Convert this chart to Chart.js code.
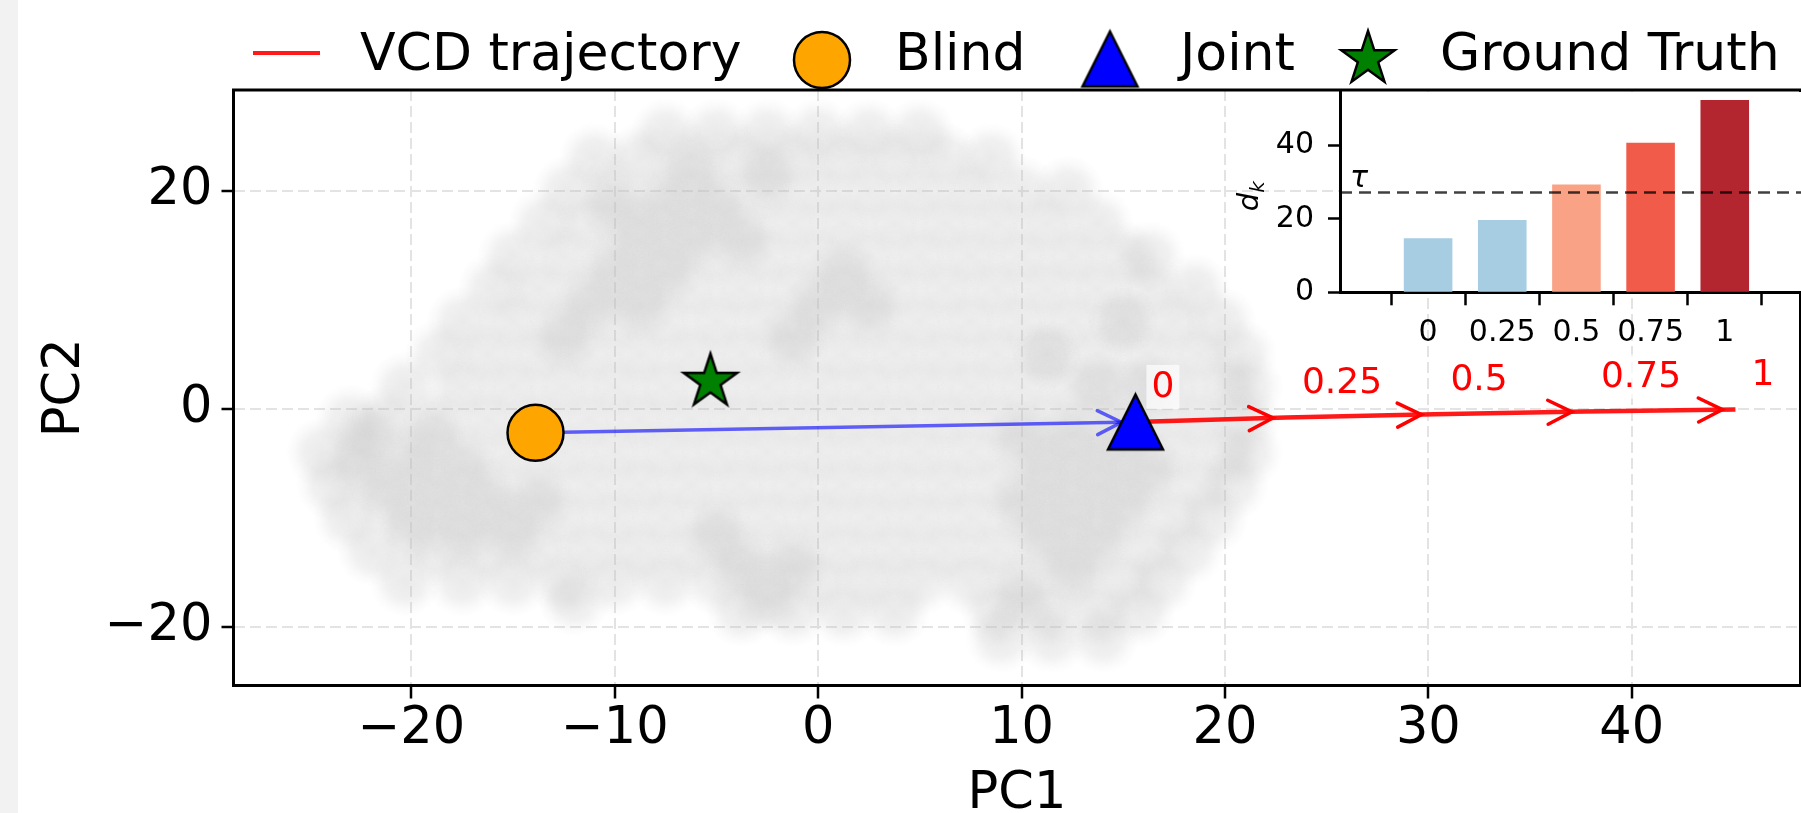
<!DOCTYPE html>
<html>
<head>
<meta charset="utf-8">
<title>VCD trajectory</title>
<script src="https://cdn.jsdelivr.net/npm/chart.js@4.4.1/dist/chart.umd.min.js"></script>
<style>
  html, body { margin: 0; padding: 0; width: 1801px; height: 813px; overflow: hidden; background: #f2f2f2; }
  #wrap { position: absolute; left: 18px; top: 0; width: 1813px; height: 813px; background: #fff; }
  #main { position: absolute; left: 0; top: 0; }
  #inset { position: absolute; left: 1202px; top: 80px; }
</style>
</head>
<body>
<div id="wrap">
  <canvas id="main" width="1813" height="813"></canvas>
  <canvas id="inset" width="600" height="300"></canvas>
</div>
<script>
// --- 데이터 ---
const xTicks = [-20, -10, 0, 10, 20, 30, 40];
const yTicks = [-20, 0, 20];

const blindPt = { x: -13.9, y: -2.2 };
const jointPt = { x: 15.6, y: -1.2 };
const truthPt = { x: -5.3, y: 2.5 };

const lambdaLabels = ['0', '0.25', '0.5', '0.75', '1'];
const lambdaVals = [0, 0.25, 0.5, 0.75, 1];
const trajX = [15.6, 23.0, 30.3, 37.7, 45.1];
const trajY = [-1.2, -0.8, -0.5, -0.25, -0.05];

const dk = [14.7, 19.7, 29.4, 40.8, 52.4];
const tau = 27.2;
const dkTicks = [0, 20, 40];

// PCA cloud: [y, [x ...]]
const cloudRows = [
  [25.3, [-7.5, -5, -2.5, 0, 2.5, 5]],
  [23,   [-11, -8.75, -6.25, -3.75, -1.25, 1.25, 3.75, 6.25, 8.5]],
  [20,   [-12.3, -10, -7.5, -5, -2.5, 0, 2.5, 5, 7.5, 10, 12.3]],
  [17,   [-13.5, -11.25, -8.75, -6.25, -3.75, -1.25, 1.25, 3.75, 6.25, 8.75, 11.25, 13.75]],
  [14,   [-15, -12.5, -10, -7.5, -5, -2.5, 0, 2.5, 5, 7.5, 10, 12.5, 15, 16.3]],
  [11,   [-16, -13.75, -11.25, -8.75, -6.25, -3.75, -1.25, 1.25, 3.75, 6.25, 8.75, 11.25, 13.75, 16.25, 18.5]],
  [8,    [-17.5, -15, -12.5, -10, -7.5, -5, -2.5, 0, 2.5, 5, 7.5, 10, 12.5, 15, 17.5, 19.8]],
  [5,    [-18.6, -16.25, -13.75, -11.25, -8.75, -6.25, -3.75, -1.25, 1.25, 3.75, 6.25, 8.75, 11.25, 13.75, 16.25, 18.75, 20.8]],
  [2,    [-20.3, -17.5, -15, -12.5, -10, -7.5, -5, -2.5, 0, 2.5, 5, 7.5, 10, 12.5, 15, 17.5, 20, 21.1]],
  [-1,   [-23, -21.25, -18.75, -16.25, -13.75, -11.25, -8.75, -6.25, -3.75, -1.25, 1.25, 3.75, 6.25, 8.75, 11.25, 13.75, 16.25, 18.75, 21]],
  [-4,   [-24.4, -22.5, -20, -17.5, -15, -12.5, -10, -7.5, -5, -2.5, 0, 2.5, 5, 7.5, 10, 12.5, 15, 17.5, 20, 21.1]],
  [-7,   [-23.9, -21.25, -18.75, -16.25, -13.75, -11.25, -8.75, -6.25, -3.75, -1.25, 1.25, 3.75, 6.25, 8.75, 11.25, 13.75, 16.25, 18.75, 20.4]],
  [-10,  [-23.1, -20, -17.5, -15, -12.5, -10, -7.5, -5, -2.5, 0, 2.5, 5, 7.5, 10, 12.5, 15, 17.5, 19.4]],
  [-13,  [-21.9, -18.75, -16.25, -13.75, -11.25, -8.75, -6.25, -3.75, -1.25, 1.25, 3.75, 6.25, 8.75, 11.25, 13.75, 16.25, 18.2]],
  [-15.8, [-20.3, -17.5, -15, -12.5, -10, -7.5, -5, -2.5, 0, 2.5, 5, 7.5, 10, 12.5, 15, 16.9]],
  [-17.6, [-12]],
  [-18.6, [-3.75, -1.25, 1.25, 3.75, 8.75, 11.25, 13.75, 15.8]],
  [-21,  [9, 11.5, 14]]
];
// denser patches of the cloud
const cloudDense = [
  [-22.5, -5.5], [-20, -5.5], [-17.5, -5.5], [-21.25, -8.5], [-18.75, -8.5], [-16.25, -8.5],
  [-20, -11.5], [-17.5, -11.5], [-22, -2.5], [-19, -2.5], [-15, -11.5], [-13.75, -8.5],
  [-10, 18.5], [-7.5, 18.5], [-5, 18.5], [-8.75, 15.5], [-6.25, 15.5], [-3.75, 15.5],
  [-10, 12.5], [-7.5, 12.5], [-11.25, 9.5], [-8.75, 9.5], [-12.5, 6.5], [-2.5, 21.5], [-6.25, 21.5],
  [0, 9.5], [2.5, 9.5], [-1.25, 6.5], [1.25, 12.5],
  [10, -2.5], [12.5, -2.5], [15, -2.5], [11.25, -5.5], [13.75, -5.5], [16.25, -5.5],
  [10, -8.5], [12.5, -8.5], [15, -8.5], [11.25, -11.5], [13.75, -11.5], [12.5, -14.5], [10, -17.5],
  [13.75, 2], [16.25, 2], [11.25, 5], [15, 8],
  [-3.75, -14.5], [-1.25, -14.5], [-5, -11.5], [-2.5, -17.5]
];

// --- 스타일 ---
const trajColor = 'rgba(255, 0, 0, 0.9)';
const blueColor = 'rgba(0, 0, 255, 0.6)';
const barColors = ['#a6cde2', '#a6cde2', '#f9a286', '#f05b4a', '#b3262f'];
const FONT = '"DejaVu Sans", sans-serif';

Chart.defaults.font.family = FONT;
Chart.defaults.color = '#000';

const minusFmt = v => (v < 0 ? '\u2212' + Math.abs(v) : String(v));

// 구름용 부드러운 점
function makeSoftDot(R) {
  const c = document.createElement('canvas');
  c.width = c.height = 2 * R;
  const g = c.getContext('2d');
  const grd = g.createRadialGradient(R, R, 0, R, R, R);
  grd.addColorStop(0, 'rgba(195,195,195,0.35)');
  grd.addColorStop(0.5, 'rgba(195,195,195,0.25)');
  grd.addColorStop(0.8, 'rgba(195,195,195,0.08)');
  grd.addColorStop(1, 'rgba(195,195,195,0)');
  g.fillStyle = grd;
  g.fillRect(0, 0, 2 * R, 2 * R);
  return c;
}

function makeTriangle(size, fill) {
  const pad = 6;
  const c = document.createElement('canvas');
  c.width = size + pad * 2;
  c.height = size + pad * 2;
  const g = c.getContext('2d');
  g.beginPath();
  g.moveTo(c.width / 2, pad);
  g.lineTo(c.width - pad, c.height - pad);
  g.lineTo(pad, c.height - pad);
  g.closePath();
  g.fillStyle = fill;
  g.fill();
  g.lineWidth = 2.5;
  g.strokeStyle = '#000';
  g.stroke();
  return c;
}

function makeStar(R, fill) {
  const pad = 7;
  const c = document.createElement('canvas');
  c.width = c.height = Math.round(2 * R + pad * 2);
  const g = c.getContext('2d');
  const cx = c.width / 2, cy = c.height / 2, r = R * 0.382;
  g.beginPath();
  for (let k = 0; k < 10; k++) {
    const a = -Math.PI / 2 + k * Math.PI / 5;
    const rr = k % 2 === 0 ? R : r;
    g.lineTo(cx + rr * Math.cos(a), cy + rr * Math.sin(a));
  }
  g.closePath();
  g.fillStyle = fill;
  g.fill();
  g.lineWidth = 2.5;
  g.strokeStyle = '#000';
  g.stroke();
  return c;
}

const softDot = makeSoftDot(36);
const triImg = makeTriangle(55, '#0000ff');
const starImg = makeStar(28, '#008000');

const cloudPoints = [];
cloudRows.forEach(([y, xs]) => xs.forEach(x => cloudPoints.push({ x, y })));
cloudDense.forEach(([x, y]) => cloudPoints.push({ x, y }));

const trajPoints = trajX.map((x, i) => ({ x, y: trajY[i] }));

// 열린 화살촉 (matplotlib '->')
function drawHead(ctx, a, b, color, shrink) {
  const dx = b.x - a.x, dy = b.y - a.y;
  const len = Math.hypot(dx, dy);
  const ux = dx / len, uy = dy / len;
  const tx = b.x - ux * shrink, ty = b.y - uy * shrink;
  const back = 24, half = 12;
  ctx.save();
  ctx.strokeStyle = color;
  ctx.lineWidth = 3.5;
  ctx.lineCap = 'round';
  ctx.beginPath();
  ctx.moveTo(tx - ux * back - uy * half, ty - uy * back + ux * half);
  ctx.lineTo(tx, ty);
  ctx.lineTo(tx - ux * back + uy * half, ty - uy * back - ux * half);
  ctx.stroke();
  ctx.restore();
}

const mainDecor = {
  id: 'mainDecor',
  afterDatasetDraw(chart, args) {
    const ctx = chart.ctx;
    const pts = args.meta.data;
    if (args.index === 1) drawHead(ctx, pts[0], pts[1], blueColor, 14);
    if (args.index === 2) {
      for (let i = 1; i < pts.length; i++) drawHead(ctx, pts[i - 1], pts[i], 'rgba(255,0,0,1)', 13);
    }
  },
  afterDatasetsDraw(chart) {
    // λ 라벨
    const ctx = chart.ctx;
    const pts = chart.getDatasetMeta(2).data;
    ctx.save();
    ctx.font = '36px ' + FONT;
    ctx.textBaseline = 'middle';
    ctx.textAlign = 'left';
    pts.forEach((p, i) => {
      const tx = p.x + 16, ty = p.y - 35;
      const w = ctx.measureText(lambdaLabels[i]).width;
      ctx.fillStyle = 'rgba(255,255,255,0.7)';
      ctx.fillRect(tx - 5, ty - 22, w + 10, 44);
      ctx.fillStyle = '#ff0000';
      ctx.fillText(lambdaLabels[i], tx, ty + 1);
    });
    ctx.restore();
  },
  afterDraw(chart) {
    const ctx = chart.ctx;
    const a = chart.chartArea;
    ctx.save();
    ctx.strokeStyle = '#000';
    ctx.lineWidth = 3;
    ctx.strokeRect(a.left, a.top, a.right - a.left, a.bottom - a.top);

    // 범례
    const ds = chart.data.datasets;
    ctx.font = '52px ' + FONT;
    ctx.fillStyle = '#000';
    ctx.textBaseline = 'alphabetic';
    ctx.strokeStyle = trajColor;
    ctx.lineWidth = 4;
    ctx.beginPath();
    ctx.moveTo(235, 53);
    ctx.lineTo(302, 53);
    ctx.stroke();
    ctx.fillText(ds[2].label, 342, 70);

    ctx.beginPath();
    ctx.arc(804, 60, 28, 0, Math.PI * 2);
    ctx.fillStyle = ds[3].backgroundColor;
    ctx.fill();
    ctx.lineWidth = 2.5;
    ctx.strokeStyle = '#000';
    ctx.stroke();
    ctx.fillStyle = '#000';
    ctx.fillText(ds[3].label, 877, 70);

    ctx.drawImage(triImg, 1092 - triImg.width / 2, 59 - triImg.height / 2);
    ctx.fillText(ds[4].label, 1162, 70);

    ctx.drawImage(starImg, 1350 - starImg.width / 2, 59 - starImg.height / 2);
    ctx.fillText(ds[5].label, 1422, 70);
    ctx.restore();
  }
};

new Chart(document.getElementById('main'), {
  type: 'scatter',
  data: {
    datasets: [
      {
        label: 'cloud',
        data: cloudPoints,
        pointStyle: softDot,
        order: 10
      },
      {
        label: 'Blind → Joint',
        data: [blindPt, jointPt],
        showLine: true,
        borderColor: blueColor,
        borderWidth: 3.5,
        pointRadius: 0,
        order: 5
      },
      {
        label: 'VCD trajectory',
        data: trajPoints,
        showLine: true,
        borderColor: trajColor,
        borderWidth: 4.5,
        pointRadius: 0,
        order: 4
      },
      {
        label: 'Blind',
        data: [blindPt],
        backgroundColor: '#ffa500',
        borderColor: '#000',
        pointBorderWidth: 2.5,
        pointRadius: 28,
        order: 1
      },
      {
        label: 'Joint',
        data: [jointPt],
        pointStyle: triImg,
        order: 1
      },
      {
        label: 'Ground Truth',
        data: [truthPt],
        pointStyle: starImg,
        order: 1
      }
    ]
  },
  options: {
    responsive: false,
    animation: false,
    events: [],
    layout: { padding: { top: 90, right: 18, left: 0, bottom: 0 } },
    plugins: { legend: { display: false }, tooltip: { enabled: false } },
    scales: {
      x: {
        type: 'linear',
        min: -28.75,
        max: 48.3,
        afterFit: s => { s.height = 127.5; s.paddingLeft = 0; s.paddingRight = 0; },
        afterBuildTicks: s => { s.ticks = xTicks.map(v => ({ value: v })); },
        ticks: { font: { size: 51, lineHeight: 1 }, color: '#000', padding: 6, autoSkip: false, maxRotation: 0, callback: minusFmt },
        grid: { color: '#e3e3e3', lineWidth: 2, tickColor: '#000', tickLength: 13, tickWidth: 2.5, tickBorderDash: [1, 0] },
        border: { display: false, dash: [11, 5] },
        title: { display: true, text: 'PC1', color: '#000', font: { size: 51, lineHeight: 0.8 }, padding: { top: 0, bottom: -2 } }
      },
      y: {
        type: 'linear',
        min: -25.4,
        max: 29.28,
        afterFit: s => { s.width = 215.5; s.paddingTop = 0; s.paddingBottom = 0; },
        afterBuildTicks: s => { s.ticks = yTicks.map(v => ({ value: v })); },
        ticks: { font: { size: 51 }, color: '#000', padding: 9, autoSkip: false, callback: minusFmt },
        grid: { color: '#e3e3e3', lineWidth: 2, tickColor: '#000', tickLength: 12, tickWidth: 2.5, tickBorderDash: [1, 0] },
        border: { display: false, dash: [11, 5] },
        title: { display: true, text: 'PC2', color: '#000', font: { size: 51, lineHeight: 0.8 }, padding: { top: 27, bottom: 0 } }
      }
    }
  },
  plugins: [mainDecor]
});

// --- 인셋 막대 그래프 ---
const insetDecor = {
  id: 'insetDecor',
  beforeDraw(chart) {
    const a = chart.chartArea, ctx = chart.ctx;
    ctx.save();
    ctx.fillStyle = '#fff';
    ctx.fillRect(a.left, a.top, a.right - a.left, a.bottom - a.top);
    ctx.restore();
  },
  afterDatasetsDraw(chart) {
    const a = chart.chartArea, ctx = chart.ctx;
    const ty = chart.scales.y.getPixelForValue(tau);
    ctx.save();
    ctx.strokeStyle = 'rgba(0,0,0,0.75)';
    ctx.lineWidth = 2.7;
    ctx.setLineDash([12, 7]);
    ctx.beginPath();
    ctx.moveTo(a.left, ty);
    ctx.lineTo(a.right, ty);
    ctx.stroke();
    ctx.setLineDash([]);
    ctx.fillStyle = '#000';
    ctx.font = 'italic 30px ' + FONT;
    ctx.textBaseline = 'alphabetic';
    ctx.fillText('\u03C4', a.left + 10, ty - 6);
    ctx.restore();
  },
  afterDraw(chart) {
    const a = chart.chartArea, ctx = chart.ctx;
    const cy = (chart.scales.y.getPixelForValue(20) + chart.scales.y.getPixelForValue(40)) / 2;
    ctx.save();
    ctx.translate(a.left - 90, cy + 14);
    ctx.rotate(-Math.PI / 2);
    ctx.fillStyle = '#000';
    ctx.font = 'italic 29px ' + FONT;
    const wd = ctx.measureText('d').width;
    ctx.font = 'italic 20px ' + FONT;
    const wk = ctx.measureText('k').width;
    const x0 = -(wd + wk) / 2;
    ctx.font = 'italic 29px ' + FONT;
    ctx.fillText('d', x0, 8);
    ctx.font = 'italic 20px ' + FONT;
    ctx.fillText('k', x0 + wd, 14);
    ctx.restore();
  }
};

new Chart(document.getElementById('inset'), {
  type: 'bar',
  data: {
    datasets: [{
      data: lambdaVals.map((x, i) => ({ x, y: dk[i] })),
      backgroundColor: barColors,
      barPercentage: 0.655,
      categoryPercentage: 1
    }]
  },
  options: {
    responsive: false,
    animation: false,
    events: [],
    layout: { padding: { top: 12, right: 7, left: 0, bottom: 0 } },
    plugins: { legend: { display: false }, tooltip: { enabled: false } },
    scales: {
      x: {
        type: 'linear',
        min: -0.1375,
        max: 1.138,
        afterFit: s => { s.height = 87.7; s.paddingLeft = 0; s.paddingRight = 0; },
        afterBuildTicks: s => { s.ticks = lambdaVals.map(v => ({ value: v })); },
        ticks: { font: { size: 30 }, color: '#000', padding: 10, autoSkip: false, maxRotation: 0,
                 callback: (v, i) => lambdaLabels[i] },
        grid: { drawOnChartArea: false, tickColor: '#000', tickLength: 13, tickWidth: 2.5 },
        border: { display: true, color: '#000', width: 3 }
      },
      y: {
        type: 'linear',
        min: 0,
        max: 54.6,
        afterFit: s => { s.width = 120; s.paddingTop = 0; s.paddingBottom = 0; },
        afterBuildTicks: s => { s.ticks = dkTicks.map(v => ({ value: v })); },
        ticks: { font: { size: 30 }, color: '#000', padding: 14, autoSkip: false },
        grid: { drawOnChartArea: false, tickColor: '#000', tickLength: 12, tickWidth: 2.5 },
        border: { display: true, color: '#000', width: 3 }
      }
    }
  },
  plugins: [insetDecor]
});
</script>
</body>
</html>
